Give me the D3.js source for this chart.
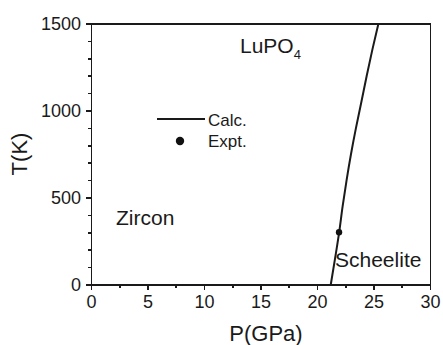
<!DOCTYPE html>
<html lang="en">
<head>
  <meta charset="utf-8">
  <title>LuPO4 phase diagram</title>
  <script src="https://cdn.jsdelivr.net/npm/d3@7"></script>
  <style>
    body { margin: 0; background: #fff; }
    svg { display: block; }
    text { font-family: "Liberation Sans", Arial, sans-serif; fill: #1a1a1a; }
    .axis path, .axis line { stroke: #1a1a1a; stroke-width: 1.6; shape-rendering: crispEdges; }
    .axis text { font-size: 18px; }
    .calc { fill: none; stroke: #1a1a1a; stroke-width: 2; }
  </style>
</head>
<body>
<script>
  // calculated zircon -> scheelite boundary, T(K) vs P(GPa)
  var calcT = [0, 150, 300, 450, 600, 750, 900, 1050, 1200, 1350, 1500];
  var calcP = [21.22, 21.6, 21.96, 22.27, 22.62, 23.01, 23.45, 23.93, 24.4, 24.9, 25.44];

  // experimental point
  var exptP = [21.95];
  var exptT = [300];

  var xTicks = [0, 5, 10, 15, 20, 25, 30];
  var yTicks = [0, 500, 1000, 1500];

  var w = 443, h = 345;
  var padL = 91, padR = 430, padT = 23.5, padB = 284.5;

  var svg = d3.select("body").append("svg")
    .attr("width", w)
    .attr("height", h);

  var xScale = d3.scaleLinear().domain([0, 30]).range([padL, padR]);
  var yScale = d3.scaleLinear().domain([0, 1500]).range([padB, padT]);

  // minor ticks first, majors drawn on top
  svg.append("g")
    .attr("class", "axis")
    .attr("transform", "translate(0," + padB + ")")
    .call(d3.axisBottom(xScale).tickValues(d3.range(0, 30.1, 2.5)).tickSize(3).tickFormat(""));
  svg.append("g")
    .attr("class", "axis")
    .attr("transform", "translate(" + padL + ",0)")
    .call(d3.axisLeft(yScale).tickValues(d3.range(0, 1501, 100)).tickSize(3).tickFormat(""));

  var xAxis = svg.append("g")
    .attr("class", "axis")
    .attr("transform", "translate(0," + padB + ")")
    .call(d3.axisBottom(xScale).tickValues(xTicks).tickSize(5).tickPadding(6).tickFormat(d3.format("d")));
  var yAxis = svg.append("g")
    .attr("class", "axis")
    .attr("transform", "translate(" + padL + ",0)")
    .call(d3.axisLeft(yScale).tickValues(yTicks).tickSize(5).tickPadding(5).tickFormat(d3.format("d")));
  xAxis.selectAll("text").attr("fill", "#1a1a1a");
  yAxis.selectAll("text").attr("fill", "#1a1a1a");

  // top and right frame
  svg.append("g")
    .attr("class", "axis")
    .attr("transform", "translate(0," + padT + ")")
    .call(d3.axisTop(xScale).tickValues([]).tickSizeOuter(0));
  svg.append("g")
    .attr("class", "axis")
    .attr("transform", "translate(" + padR + ",0)")
    .call(d3.axisRight(yScale).tickValues([]).tickSizeOuter(0));

  var calc = calcT.map(function (t, i) { return { P: calcP[i], T: t }; });
  var line = d3.line()
    .x(function (d) { return xScale(d.P); })
    .y(function (d) { return yScale(d.T); })
    .curve(d3.curveMonotoneY);

  svg.append("path")
    .datum(calc)
    .attr("class", "calc")
    .attr("d", line);

  svg.selectAll("circle.expt")
    .data(exptP)
    .enter()
    .append("circle")
    .attr("class", "expt")
    .attr("cx", function (d) { return xScale(d); })
    .attr("cy", function (d, i) { return yScale(exptT[i]); })
    .attr("r", 3.2)
    .attr("fill", "#111");

  // axis titles
  svg.append("text")
    .attr("x", 266)
    .attr("y", 341)
    .attr("text-anchor", "middle")
    .attr("font-size", "22px")
    .text("P(GPa)");
  svg.append("text")
    .attr("transform", "translate(27,154) rotate(-90)")
    .attr("text-anchor", "middle")
    .attr("font-size", "22px")
    .text("T(K)");

  // phase labels
  var lu = svg.append("text")
    .attr("x", 240)
    .attr("y", 53)
    .attr("font-size", "21px");
  lu.append("tspan").text("LuPO");
  lu.append("tspan").attr("font-size", "13px").attr("dy", 6).text("4");

  svg.append("text")
    .attr("x", 116)
    .attr("y", 225)
    .attr("font-size", "21px")
    .text("Zircon");
  svg.append("text")
    .attr("x", 335)
    .attr("y", 267)
    .attr("font-size", "21px")
    .text("Scheelite");

  // legend
  svg.append("line")
    .attr("x1", 157).attr("x2", 205)
    .attr("y1", 119).attr("y2", 119)
    .attr("stroke", "#1a1a1a")
    .attr("stroke-width", 2);
  svg.append("text")
    .attr("x", 208).attr("y", 126)
    .attr("font-size", "17px")
    .text("Calc.");
  svg.append("circle")
    .attr("cx", 180).attr("cy", 141)
    .attr("r", 4.2)
    .attr("fill", "#111");
  svg.append("text")
    .attr("x", 208).attr("y", 147)
    .attr("font-size", "17px")
    .text("Expt.");
</script>
</body>
</html>
